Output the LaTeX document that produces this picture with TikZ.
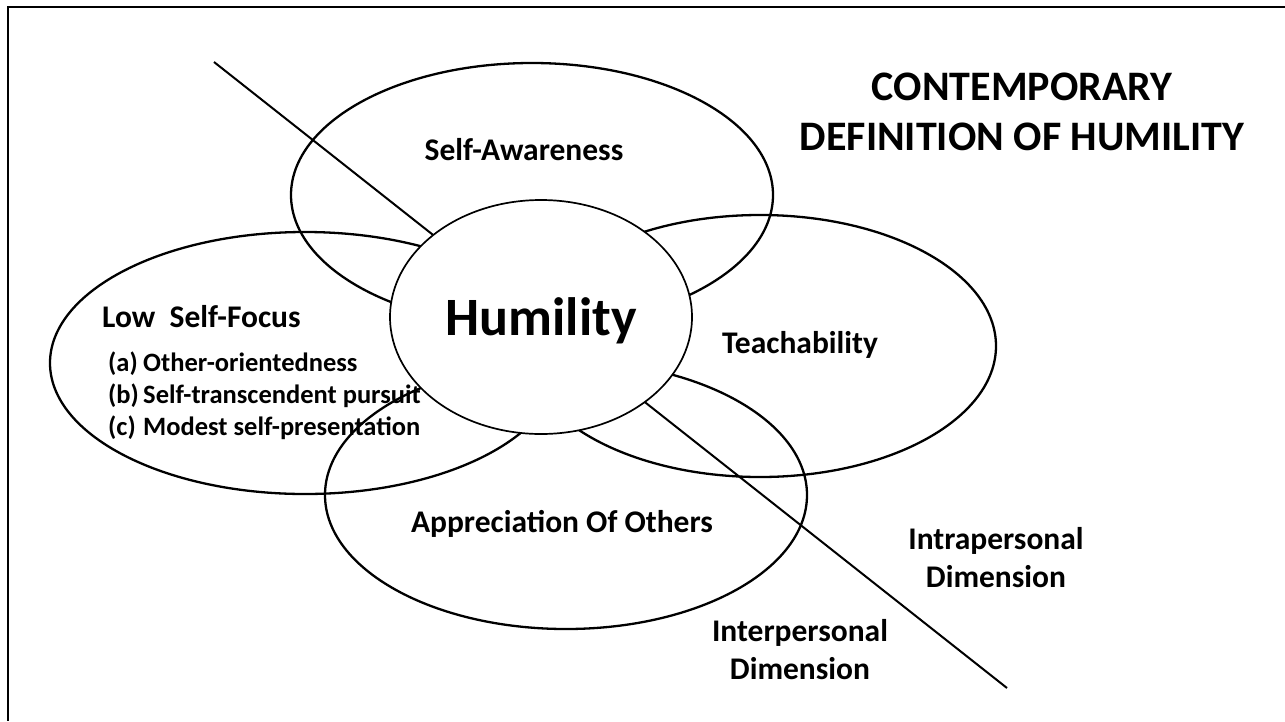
\documentclass[tikz,border=0pt]{standalone}
\usepackage{fontspec}
\setmainfont{Carlito}
\usetikzlibrary{shapes.geometric}
\begin{document}
\begin{tikzpicture}[x=1pt,y=-1pt,
  petal/.style={draw=black, line width=2.3pt, ellipse, inner sep=0pt, outer sep=0pt},
  core/.style={draw=black, line width=1.7pt, fill=white, ellipse, inner sep=0pt, outer sep=0pt},
  lbl/.style={font=\bfseries\fontsize{31.5}{38}\selectfont, anchor=base, inner sep=0pt},
  item/.style={font=\bfseries\fontsize{26.5}{32}\selectfont, anchor=base west, inner sep=0pt},
  heading/.style={font=\bfseries\fontsize{42}{50}\selectfont, anchor=base, inner sep=0pt},
  bigword/.style={font=\bfseries\fontsize{54}{60}\selectfont, anchor=base, inner sep=0pt},
  divider/.style={draw=black, line width=2pt}]
\useasboundingbox (0,0) rectangle (1285,721);
\fill[white] (0,0) rectangle (1285,721);

% frame along the top and the left side
\coordinate (frameR) at (1285,7);
\coordinate (frameC) at (8,7);
\coordinate (frameB) at (8,721);
\draw[line width=2.5pt] (frameR) -- (frameC) -- (frameB);

% the four overlapping components
\node[petal, minimum width=482pt, minimum height=264pt] (aware) at (532,195) {};
\node[petal, minimum width=510pt, minimum height=262pt] (focus) at (305,363) {};
\node[petal, minimum width=472pt, minimum height=262pt] (teach) at (760,346) {};
\node[petal, minimum width=482pt, minimum height=268pt] (apprec) at (566,495) {};

% dividing line between the two dimensions
\coordinate (divA) at (214,62);
\coordinate (divB) at (1007,688);
\draw[divider] (divA) -- (divB);

% central trait on top
\node[core, minimum width=302pt, minimum height=234pt] (hum) at (541,317) {};
\node[bigword] (humtxt) at (541,335) {Humility};

% component labels
\node[lbl] (awaretxt) at (524,160) {Self-Awareness};
\node[lbl, anchor=base west] (focustxt) at (102,327) {Low\ \ Self-Focus};
\node[item] (itemA) at (108,371) {\makebox[35pt][l]{(a)}Other-orientedness};
\node[item] (itemB) at (108,403) {\makebox[35pt][l]{(b)}Self-transcendent pursuit};
\node[item] (itemC) at (108,435) {\makebox[35pt][l]{(c)}Modest self-presentation};
\node[lbl] (teachtxt) at (800,353) {Teachability};
\node[lbl] (apprectxt) at (562,532) {Appreciation Of Others};

% dimension labels
\node[lbl] (intraA) at (996,549) {Intrapersonal};
\node[lbl] (intraB) at (996,587) {Dimension};
\node[lbl] (interA) at (800,641) {Interpersonal};
\node[lbl] (interB) at (800,679) {Dimension};

% title
\node[heading] (titleA) at (1022,100) {CONTEMPORARY};
\node[heading] (titleB) at (1022,150) {DEFINITION OF HUMILITY};
\end{tikzpicture}
\end{document}
